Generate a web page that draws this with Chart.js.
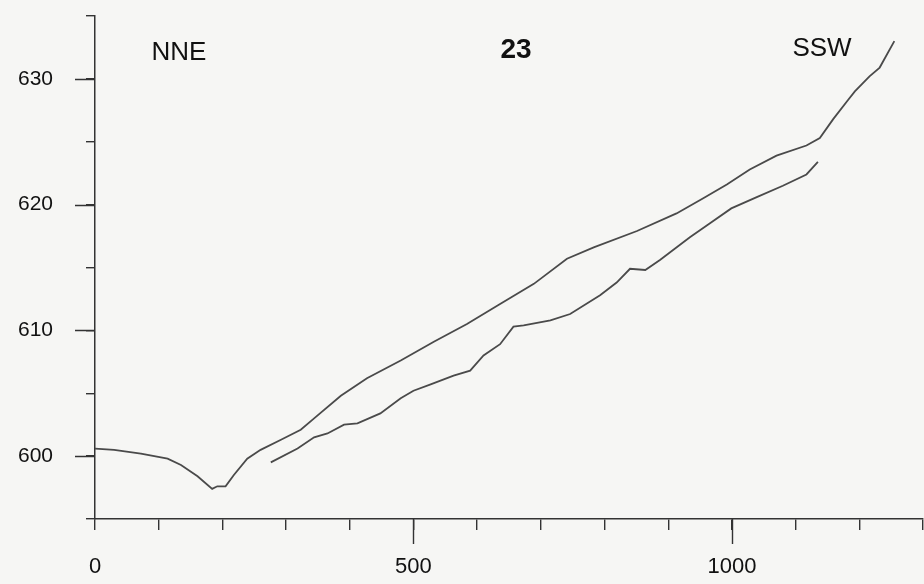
<!DOCTYPE html>
<html>
<head>
<meta charset="utf-8">
<script src="https://cdn.jsdelivr.net/npm/chart.js@4.4.1/dist/chart.umd.min.js"></script>
<style>
  html, body { margin: 0; padding: 0; background: #f6f6f4; }
  #wrap { width: 924px; height: 584px; }
</style>
</head>
<body>
<div id="wrap"><canvas id="c" width="924" height="584"></canvas></div>
<script>
// Upper profile (distance, elevation)
const upperX = [0, 30, 72, 114, 135, 161, 184, 192, 205, 218, 239, 260, 292, 323, 344, 386, 427, 480, 532, 584, 636, 689, 741, 783, 851, 913, 955, 992, 1028, 1070, 1117, 1138, 1159, 1182, 1193, 1216, 1232, 1255];
const upperY = [600.6, 600.5, 600.2, 599.8, 599.3, 598.4, 597.4, 597.6, 597.6, 598.5, 599.8, 600.5, 601.3, 602.1, 603.0, 604.8, 606.2, 607.6, 609.1, 610.5, 612.1, 613.7, 615.7, 616.6, 617.9, 619.3, 620.5, 621.6, 622.8, 623.9, 624.7, 625.3, 626.8, 628.3, 629.0, 630.2, 630.9, 633.0];
// Lower profile
const lowerX = [276, 318, 344, 365, 391, 412, 448, 480, 500, 527, 563, 589, 610, 636, 657, 673, 715, 746, 793, 819, 840, 864, 887, 934, 965, 999, 1039, 1080, 1117, 1135];
const lowerY = [599.5, 600.6, 601.5, 601.8, 602.5, 602.6, 603.4, 604.6, 605.2, 605.7, 606.4, 606.8, 608.0, 608.9, 610.3, 610.4, 610.8, 611.3, 612.8, 613.8, 614.9, 614.8, 615.6, 617.4, 618.5, 619.7, 620.6, 621.5, 622.4, 623.4];
// Tick labels
const xLabels = [0, 500, 1000];
const yLabels = [600, 610, 620, 630];
const titleLeft = 'NNE';
const titleCenter = '23';
const titleRight = 'SSW';

const toPts = (xs, ys) => xs.map((x, i) => ({ x: x, y: ys[i] }));
const AXIS = '#333';
const FONT = "'Liberation Sans', Arial, sans-serif";

const noPad = s => { s.paddingLeft = 0; s.paddingRight = 0; s.paddingTop = 0; s.paddingBottom = 0; };

const extras = {
  id: 'extras',
  afterDraw(chart) {
    const ctx = chart.ctx;
    const xs = chart.scales.x, ys = chart.scales.y;
    ctx.save();
    ctx.strokeStyle = AXIS;
    ctx.lineWidth = 1.4;
    ctx.beginPath();
    xLabels.forEach(v => {
      if (v === 0) return;
      const px = Math.round(xs.getPixelForValue(v)) + 0.5;
      ctx.moveTo(px, ys.bottom);
      ctx.lineTo(px, ys.bottom + 25);
    });
    yLabels.forEach(v => {
      const py = Math.round(ys.getPixelForValue(v)) + 0.5;
      ctx.moveTo(xs.left - 20, py);
      ctx.lineTo(xs.left, py);
    });
    ctx.stroke();
    ctx.fillStyle = '#111';
    ctx.textAlign = 'center';
    ctx.textBaseline = 'middle';
    ctx.font = '26px ' + FONT;
    ctx.fillText(titleLeft, 179, 53);
    ctx.fillText(titleRight, 822, 49);
    ctx.font = 'bold 28px ' + FONT;
    ctx.fillText(titleCenter, 516, 50);
    ctx.restore();
  }
};

new Chart(document.getElementById('c'), {
  type: 'line',
  data: {
    datasets: [
      { data: toPts(upperX, upperY), borderColor: '#4a4a4a', borderWidth: 1.8, pointRadius: 0, tension: 0, fill: false },
      { data: toPts(lowerX, lowerY), borderColor: '#4a4a4a', borderWidth: 1.8, pointRadius: 0, tension: 0, fill: false }
    ]
  },
  options: {
    responsive: false,
    animation: false,
    devicePixelRatio: 1,
    layout: { autoPadding: false, padding: { left: 0, right: 1, top: 16, bottom: 0 } },
    plugins: { legend: { display: false }, tooltip: { enabled: false }, title: { display: false } },
    scales: {
      x: {
        type: 'linear',
        min: 0, max: 1300,
        afterFit(s) { s.height = 65; noPad(s); },
        border: { display: true, color: AXIS, width: 1.5 },
        grid: { display: true, drawOnChartArea: false, drawTicks: true, tickLength: 11, color: AXIS, lineWidth: 1.4 },
        ticks: {
          stepSize: 100, autoSkip: false, maxRotation: 0, padding: 24,
          color: '#111', font: { family: FONT, size: 22 },
          callback: v => (xLabels.includes(v) ? String(v) : '')
        }
      },
      y: {
        type: 'linear',
        min: 595, max: 635,
        afterFit(s) { s.width = 95; noPad(s); },
        border: { display: true, color: AXIS, width: 1.5 },
        grid: { display: true, drawOnChartArea: false, drawTicks: true, tickLength: 9, color: AXIS, lineWidth: 1.4 },
        ticks: {
          stepSize: 5, autoSkip: false, padding: 33,
          color: '#111', font: { family: FONT, size: 21 },
          callback: v => (yLabels.includes(v) ? String(v) : '')
        }
      }
    }
  },
  plugins: [extras]
});
</script>
</body>
</html>
